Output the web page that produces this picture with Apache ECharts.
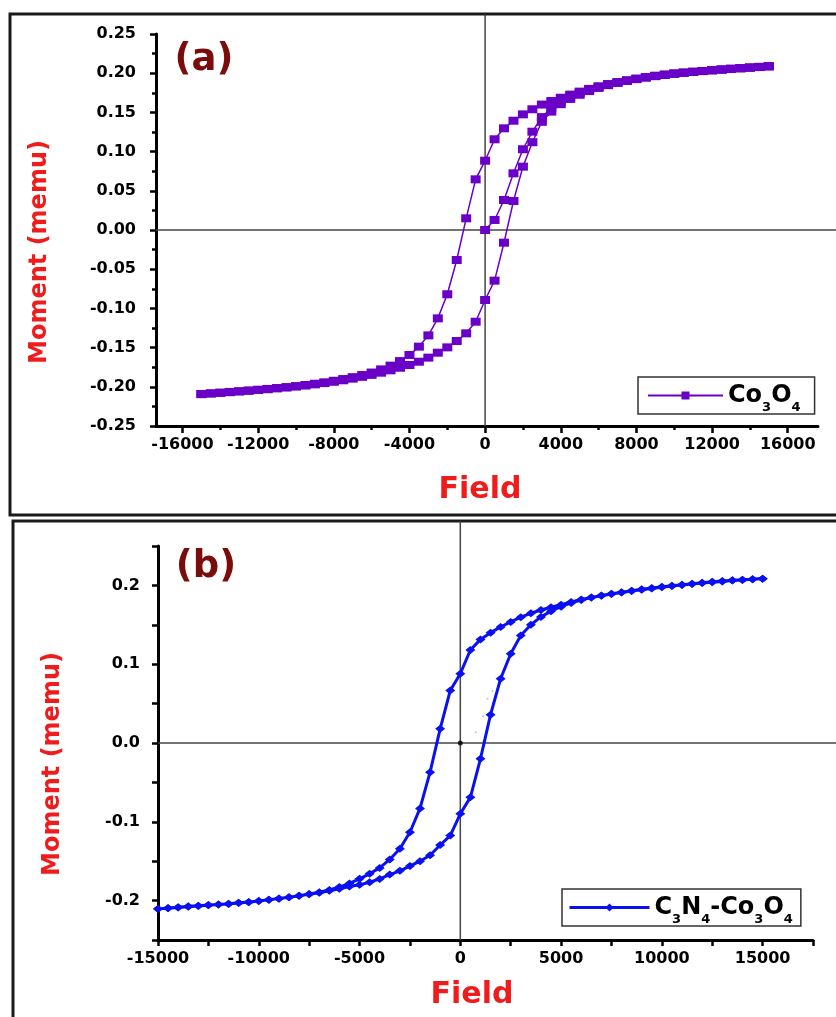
<!DOCTYPE html>
<html>
<head>
<meta charset="utf-8">
<title>Hysteresis loops</title>
<script src="https://cdn.jsdelivr.net/npm/echarts@6/dist/echarts.min.js"></script>
<style>
  html, body { margin: 0; padding: 0; background: #fff; }
  #chart { width: 836px; height: 1017px; }
</style>
</head>
<body>
<div id="chart"></div>
<script>
// field steps (Oe), same for both samples
const fieldVirgin = [0, 500, 1000, 1500, 2000, 2500, 3000, 3500, 4000, 4500,
  5000, 5500, 6000, 6500, 7000, 7500, 8000, 8500, 9000, 9500,
  10000, 10500, 11000, 11500, 12000, 12500, 13000, 13500, 14000, 14500, 15000];
const fieldDown = [15000, 14500, 14000, 13500, 13000, 12500, 12000, 11500, 11000, 10500,
  10000, 9500, 9000, 8500, 8000, 7500, 7000, 6500, 6000, 5500,
  5000, 4500, 4000, 3500, 3000, 2500, 2000, 1500, 1000, 500,
  0, -500, -1000, -1500, -2000, -2500, -3000, -3500, -4000, -4500,
  -5000, -5500, -6000, -6500, -7000, -7500, -8000, -8500, -9000, -9500,
  -10000, -10500, -11000, -11500, -12000, -12500, -13000, -13500, -14000, -14500, -15000];
const fieldUp = [-15000, -14500, -14000, -13500, -13000, -12500, -12000, -11500, -11000, -10500,
  -10000, -9500, -9000, -8500, -8000, -7500, -7000, -6500, -6000, -5500,
  -5000, -4500, -4000, -3500, -3000, -2500, -2000, -1500, -1000, -500,
  0, 500, 1000, 1500, 2000, 2500, 3000, 3500, 4000, 4500,
  5000, 5500, 6000, 6500, 7000, 7500, 8000, 8500, 9000, 9500,
  10000, 10500, 11000, 11500, 12000, 12500, 13000, 13500, 14000, 14500, 15000];

// (a) Co3O4 moment (memu)
const momentVirginA = [0.0000, 0.0128, 0.0383, 0.0723, 0.1030, 0.1254, 0.1440, 0.1555, 0.1640, 0.1700,
  0.1750, 0.1792, 0.1828, 0.1858, 0.1883, 0.1906, 0.1928, 0.1948, 0.1966, 0.1981,
  0.1995, 0.2007, 0.2018, 0.2028, 0.2038, 0.2047, 0.2056, 0.2064, 0.2072, 0.2080, 0.2089];
const momentDownA = [0.2089, 0.2081, 0.2073, 0.2065, 0.2057, 0.2048, 0.2039, 0.2029, 0.2019, 0.2008,
  0.1996, 0.1982, 0.1967, 0.1950, 0.1931, 0.1910, 0.1887, 0.1861, 0.1832, 0.1800,
  0.1765, 0.1727, 0.1687, 0.1645, 0.1600, 0.1540, 0.1475, 0.1394, 0.1297, 0.1157,
  0.0884, 0.0646, 0.0149, -0.0383, -0.0820, -0.1127, -0.1344, -0.1488, -0.1594, -0.1672,
  -0.1730, -0.1778, -0.1818, -0.1850, -0.1877, -0.1901, -0.1923, -0.1943, -0.1961, -0.1977,
  -0.1991, -0.2004, -0.2016, -0.2027, -0.2037, -0.2047, -0.2056, -0.2065, -0.2074, -0.2083, -0.2092];
const momentUpA = [-0.2094, -0.2086, -0.2078, -0.2069, -0.2060, -0.2051, -0.2041, -0.2031, -0.2020, -0.2009,
  -0.1997, -0.1984, -0.1969, -0.1953, -0.1936, -0.1917, -0.1896, -0.1873, -0.1848, -0.1820,
  -0.1790, -0.1757, -0.1722, -0.1680, -0.1628, -0.1565, -0.1497, -0.1416, -0.1318, -0.1170,
  -0.0893, -0.0646, -0.0162, 0.0370, 0.0808, 0.1120, 0.1380, 0.1510, 0.1605, 0.1672,
  0.1725, 0.1772, 0.1812, 0.1847, 0.1876, 0.1901, 0.1924, 0.1944, 0.1962, 0.1978,
  0.1993, 0.2005, 0.2016, 0.2026, 0.2036, 0.2045, 0.2054, 0.2062, 0.2070, 0.2078, 0.2087];

// (b) C3N4-Co3O4 moment (memu)
const momentDownB = [0.2085, 0.2079, 0.2072, 0.2064, 0.2055, 0.2045, 0.2034, 0.2022, 0.2009, 0.1995,
  0.1982, 0.1967, 0.1950, 0.1932, 0.1912, 0.1893, 0.1871, 0.1847, 0.1820, 0.1790,
  0.1755, 0.1722, 0.1688, 0.1646, 0.1597, 0.1537, 0.1472, 0.1400, 0.1315, 0.1180,
  0.0880, 0.0665, 0.0180, -0.0370, -0.0830, -0.1133, -0.1343, -0.1478, -0.1585, -0.1660,
  -0.1724, -0.1782, -0.1828, -0.1865, -0.1894, -0.1917, -0.1938, -0.1956, -0.1972, -0.1988,
  -0.2005, -0.2020, -0.2032, -0.2042, -0.2050, -0.2057, -0.2064, -0.2073, -0.2083, -0.2094, -0.2105];
const momentUpB = [-0.2106, -0.2098, -0.2089, -0.2079, -0.2068, -0.2058, -0.2049, -0.2039, -0.2028, -0.2017,
  -0.2005, -0.1990, -0.1975, -0.1958, -0.1940, -0.1921, -0.1900, -0.1876, -0.1850, -0.1822,
  -0.1800, -0.1767, -0.1725, -0.1670, -0.1622, -0.1562, -0.1500, -0.1425, -0.1295, -0.1175,
  -0.0899, -0.0690, -0.0200, 0.0360, 0.0815, 0.1133, 0.1365, 0.1500, 0.1600, 0.1672,
  0.1730, 0.1778, 0.1814, 0.1845, 0.1868, 0.1890, 0.1910, 0.1928, 0.1945, 0.1961,
  0.1976, 0.1991, 0.2005, 0.2018, 0.2030, 0.2041, 0.2051, 0.2061, 0.2070, 0.2078, 0.2085];
// faint initial-magnetisation dots of (b)
const faintFieldB = [770, 1133, 1350, 1600];
const faintMomentB = [0.0137, 0.0340, 0.0560, 0.0660];

// tick labels
const xLabelsA = [-16000, -12000, -8000, -4000, 0, 4000, 8000, 12000, 16000];
const xTicksMinorA = [-16000, -14000, -12000, -10000, -8000, -6000, -4000, -2000, 0,
  2000, 4000, 6000, 8000, 10000, 12000, 14000, 16000];
const xLabelsB = [-15000, -10000, -5000, 0, 5000, 10000, 15000];
const yLabelsB = [-0.2, -0.1, 0, 0.1, 0.2];

const FONT = 'DejaVu Sans';
const purple = '#6a00c8';
const blue = '#0a10f0';
const red = '#f01c1c';
const axisCol = '#000';

function pairs(xs, ys) {
  return xs.map((x, i) => [x, ys[i]]);
}
const loopA = pairs(fieldVirgin, momentVirginA)
  .concat(pairs(fieldDown, momentDownA))
  .concat(pairs(fieldUp, momentUpA));
const loopB = pairs(fieldDown, momentDownB).concat(pairs(fieldUp, momentUpB));

const labelStyle = {
  color: '#000', fontFamily: FONT, fontWeight: 'bold', fontSize: 16
};
const legendRich = {
  m: { fontFamily: FONT, fontWeight: 'bold', fontSize: 24, lineHeight: 26, color: '#000' },
  s: { fontFamily: FONT, fontWeight: 'bold', fontSize: 13, lineHeight: 26, padding: [24, 0, 0, 0], color: '#000' }
};

function crossLine(xi, yi, pts) {
  return {
    type: 'line', xAxisIndex: xi, yAxisIndex: yi, data: pts,
    symbol: 'none', clip: false, silent: true, z: 1,
    lineStyle: { color: '#444', width: 1.5 }
  };
}

let myChart = echarts.init(document.getElementById('chart'), null, { renderer: 'canvas' });

const option = {
  animation: false,
  backgroundColor: '#fff',
  grid: [
    { left: 156, top: 34, width: 662, height: 392 },
    { left: 158, top: 546, width: 655, height: 394 }
  ],
  xAxis: [
    {
      type: 'value', gridIndex: 0, position: 'bottom', min: -17400, max: 17600,
      axisLine: { onZero: false, lineStyle: { color: axisCol, width: 3 } },
      axisTick: { customValues: xLabelsA, length: 7, lineStyle: { color: axisCol, width: 2.5 } },
      axisLabel: Object.assign({ customValues: xLabelsA, margin: 11, formatter: v => String(v) }, labelStyle),
      splitLine: { show: false }
    },
    {
      // short ticks every 2000 for (a)
      type: 'value', gridIndex: 0, position: 'bottom', min: -17400, max: 17600,
      axisLine: { show: false, onZero: false },
      axisTick: { customValues: xTicksMinorA, length: 4, lineStyle: { color: axisCol, width: 2.5 } },
      axisLabel: { show: false },
      splitLine: { show: false }
    },
    {
      type: 'value', gridIndex: 1, position: 'bottom', min: -15000, max: 17500, interval: 2500,
      axisLine: { onZero: false, lineStyle: { color: axisCol, width: 3 } },
      axisTick: { length: 6, lineStyle: { color: axisCol, width: 2.5 } },
      axisLabel: Object.assign({ customValues: xLabelsB, margin: 11, formatter: v => String(v) }, labelStyle),
      splitLine: { show: false }
    }
  ],
  yAxis: [
    {
      type: 'value', gridIndex: 0, min: -0.25, max: 0.25, interval: 0.05,
      axisLine: { show: true, onZero: false, lineStyle: { color: axisCol, width: 3 } },
      axisTick: { show: true, length: 6, lineStyle: { color: axisCol, width: 2.5 } },
      minorTick: { show: true, splitNumber: 2, length: 4, lineStyle: { color: axisCol, width: 2.5 } },
      axisLabel: Object.assign({
        margin: 20,
        formatter: v => (Math.abs(v) < 1e-9 ? '0.00' : v.toFixed(2))
      }, labelStyle),
      splitLine: { show: false }
    },
    {
      type: 'value', gridIndex: 1, min: -0.25, max: 0.25, interval: 0.05,
      axisLine: { show: true, onZero: false, lineStyle: { color: axisCol, width: 3 } },
      axisTick: { show: true, length: 6, lineStyle: { color: axisCol, width: 2.5 } },
      axisLabel: Object.assign({
        customValues: yLabelsB, margin: 18,
        formatter: v => (Math.abs(v) < 1e-9 ? '0.0' : v.toFixed(1))
      }, labelStyle),
      splitLine: { show: false }
    }
  ],
  legend: [
    {
      data: ['Co3O4'], left: 638, top: 377, selectedMode: false,
      itemWidth: 75, itemHeight: 10, padding: [0, 14, 0, 9],
      borderColor: '#333', borderWidth: 1.5, backgroundColor: '#fff',
      formatter: () => '{m|Co}{s|3}{m|O}{s|4}',
      textStyle: { rich: legendRich }
    },
    {
      data: ['C3N4-Co3O4'], left: 562, top: 889, selectedMode: false,
      itemWidth: 80, itemHeight: 10, padding: [0, 8, 0, 6],
      lineStyle: { width: 3 },
      borderColor: '#333', borderWidth: 1.5, backgroundColor: '#fff',
      formatter: () => '{m|C}{s|3}{m|N}{s|4}{m|-Co}{s|3}{m|O}{s|4}',
      textStyle: { rich: legendRich }
    }
  ],
  series: [
    crossLine(0, 0, [[0, -0.25], [0, 0.275]]),
    crossLine(0, 0, [[-17400, 0], [17600, 0]]),
    {
      name: 'Co3O4', type: 'line', xAxisIndex: 0, yAxisIndex: 0, z: 3,
      data: loopA, symbol: 'rect', symbolSize: [10, 8],
      lineStyle: { color: purple, width: 1.5 },
      itemStyle: { color: purple }
    },
    crossLine(2, 1, [[0, -0.25], [0, 0.282]]),
    crossLine(2, 1, [[-15000, 0], [17500, 0]]),
    {
      type: 'scatter', xAxisIndex: 2, yAxisIndex: 1, z: 2, silent: true,
      data: pairs(faintFieldB, faintMomentB), symbolSize: 2,
      itemStyle: { color: '#a8acff' }
    },
    {
      name: 'C3N4-Co3O4', type: 'line', xAxisIndex: 2, yAxisIndex: 1, z: 3,
      data: loopB, symbol: 'diamond', symbolSize: [10, 8],
      lineStyle: { color: blue, width: 3 },
      itemStyle: { color: blue }
    },
    {
      type: 'scatter', xAxisIndex: 2, yAxisIndex: 1, z: 4, silent: true,
      data: [[0, 0]], symbolSize: 5, itemStyle: { color: '#000' }
    }
  ],
  graphic: [
    // panel frames
    { id: 'frameA', type: 'rect', z: 0, shape: { x: 10, y: 14, width: 900, height: 501 },
      style: { fill: 'none', stroke: '#1a1a1a', lineWidth: 3 } },
    { id: 'frameB', type: 'rect', z: 0, shape: { x: 13, y: 521, width: 900, height: 600 },
      style: { fill: 'none', stroke: '#1a1a1a', lineWidth: 3 } },
    // panel letters
    { id: 'tagA', type: 'text', x: 204, y: 60, z: 10,
      style: { text: '(a)', fill: '#7b0c0c', font: 'bold 37px "DejaVu Sans"', align: 'center', verticalAlign: 'middle' } },
    { id: 'tagB', type: 'text', x: 206, y: 567, z: 10,
      style: { text: '(b)', fill: '#7b0c0c', font: 'bold 37px "DejaVu Sans"', align: 'center', verticalAlign: 'middle' } },
    // axis titles
    { id: 'yTitleA', type: 'text', x: 40, y: 252, rotation: Math.PI / 2, z: 10,
      style: { text: 'Moment (memu)', fill: red, font: 'bold 24px "DejaVu Sans"', align: 'center', verticalAlign: 'middle' } },
    { id: 'yTitleB', type: 'text', x: 53, y: 764, rotation: Math.PI / 2, z: 10,
      style: { text: 'Moment (memu)', fill: red, font: 'bold 24px "DejaVu Sans"', align: 'center', verticalAlign: 'middle' } },
    { id: 'xTitleA', type: 'text', x: 480, y: 490, z: 10,
      style: { text: 'Field', fill: red, font: 'bold 30px "DejaVu Sans"', align: 'center', verticalAlign: 'middle' } },
    { id: 'xTitleB', type: 'text', x: 472, y: 995, z: 10,
      style: { text: 'Field', fill: red, font: 'bold 30px "DejaVu Sans"', align: 'center', verticalAlign: 'middle' } }
  ]
};

myChart.setOption(option);

// zero lines run on past the right end of each x axis to the page edge
const zeroA = myChart.convertToPixel({ xAxisIndex: 0, yAxisIndex: 0 }, [17600, 0]);
const zeroB = myChart.convertToPixel({ xAxisIndex: 2, yAxisIndex: 1 }, [17500, 0]);
myChart.setOption({
  graphic: [
    { id: 'zeroExtA', type: 'line', z: 1, silent: true,
      shape: { x1: zeroA[0], y1: zeroA[1], x2: 840, y2: zeroA[1] },
      style: { stroke: '#444', lineWidth: 1.5 } },
    { id: 'zeroExtB', type: 'line', z: 1, silent: true,
      shape: { x1: zeroB[0], y1: zeroB[1], x2: 840, y2: zeroB[1] },
      style: { stroke: '#444', lineWidth: 1.5 } }
  ]
});
</script>
</body>
</html>
